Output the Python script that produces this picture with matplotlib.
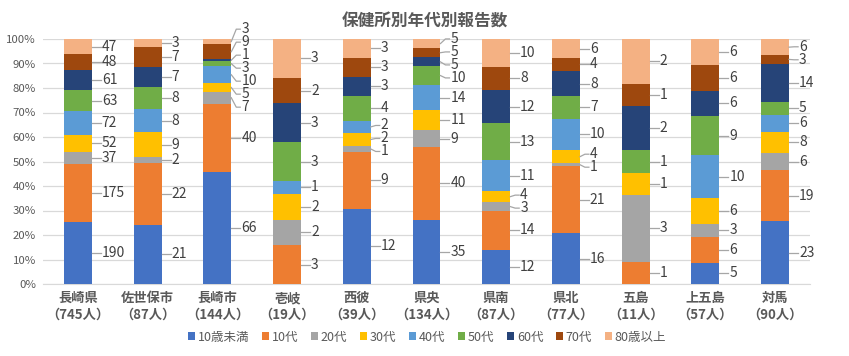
import numpy as np
import matplotlib
matplotlib.use("Agg")
import matplotlib.pyplot as plt
from matplotlib.patches import Patch

plt.rcParams['font.family'] = ['Noto Sans CJK JP', 'DejaVu Sans']

areas = ['長崎県', '佐世保市', '長崎市', '壱岐', '西彼', '県央', '県南', '県北', '五島', '上五島', '対馬']
age_groups = ['10歳未満', '10代', '20代', '30代', '40代', '50代', '60代', '70代', '80歳以上']

# counts per area, bottom (10歳未満) to top (80歳以上)
under10 = [190, 21, 66, 0, 12, 35, 12, 16, 0, 5, 23]
teens   = [175, 22, 40, 3, 9, 40, 14, 21, 1, 6, 19]
twenties = [37, 2, 7, 2, 1, 9, 3, 1, 3, 3, 6]
thirties = [52, 9, 5, 2, 2, 11, 4, 4, 1, 6, 8]
forties  = [72, 8, 10, 1, 2, 14, 11, 10, 0, 10, 6]
fifties  = [63, 8, 3, 3, 4, 10, 13, 7, 1, 9, 5]
sixties  = [61, 7, 1, 3, 3, 5, 12, 8, 2, 6, 14]
seventies = [48, 7, 9, 2, 3, 5, 8, 4, 1, 6, 3]
over80   = [47, 3, 3, 3, 3, 5, 10, 6, 2, 6, 6]

colors = ['#4472C4', '#ED7D31', '#A5A5A5', '#FFC000', '#5B9BD5',
          '#70AD47', '#264478', '#9E480E', '#F4B183']

counts = np.array([under10, teens, twenties, thirties, forties,
                   fifties, sixties, seventies, over80], dtype=float)
totals = counts.sum(axis=0)
pct = counts / totals * 100

W, H = 849, 356
fig = plt.figure(figsize=(W / 100, H / 100), dpi=100)
ax = fig.add_axes([43 / W, (H - 284) / H, (810 - 43) / W, (284 - 39) / H])

x = np.arange(len(areas))
bw = 0.4
bottom = np.zeros(len(areas))
for k in range(len(age_groups)):
    ax.bar(x, pct[k], bw, bottom=bottom, color=colors[k], zorder=3)
    bottom += pct[k]

ax.set_xlim(-0.5, len(areas) - 0.5)
ax.set_ylim(0, 100)
ax.set_yticks(np.arange(0, 101, 10))
ax.set_yticklabels([f'{v}%' for v in range(0, 101, 10)], color='#595959', fontsize=8.2)
ax.grid(axis='y', color='#D9D9D9', linewidth=0.9, zorder=0)
for s in ['top', 'right', 'left']:
    ax.spines[s].set_visible(False)
ax.spines['bottom'].set_color('#D9D9D9')
ax.tick_params(axis='both', length=0)
ax.tick_params(axis='y', pad=5)
ax.tick_params(axis='x', pad=5)
ax.set_xticks(x)
ax.set_xticklabels([f'{a}\n（{int(t)}人）' for a, t in zip(areas, totals)],
                   fontsize=9.5, fontweight='bold', color='#595959', linespacing=1.25)

# data labels with leader lines, spread apart to avoid overlap
px_x = len(areas) / (810 - 43)
px_y = 100 / (284 - 39)
gap = 13 * px_y
for i in range(len(areas)):
    cum = np.cumsum(pct[:, i]) - pct[:, i] / 2
    idx = [k for k in range(len(age_groups)) if counts[k, i] > 0]
    centers = np.array([cum[k] for k in idx])
    pos = centers.copy()
    for _ in range(300):
        moved = False
        for j in range(len(pos) - 1):
            d = pos[j + 1] - pos[j]
            if d < gap:
                shift = (gap - d) / 2 + 1e-6
                pos[j] -= shift
                pos[j + 1] += shift
                moved = True
        if not moved:
            break
    right = i + bw / 2
    for k, c, p in zip(idx, centers, pos):
        ax.plot([right, right + 5 * px_x, right + 9 * px_x], [c, p, p],
                color='#A6A6A6', linewidth=0.9, clip_on=False, zorder=4)
        ax.text(right + 10 * px_x, p, f'{int(counts[k, i])}', fontsize=10,
                color='#404040', va='center', ha='left', clip_on=False)

fig.text(425 / W, (H - 22) / H, '保健所別年代別報告数', ha='center', va='center',
         fontsize=12, fontweight='bold', color='#595959')

handles = [Patch(facecolor=c, edgecolor='none') for c in colors]
fig.legend(handles, age_groups, loc='center', bbox_to_anchor=(427 / W, (H - 337) / H),
           ncol=9, frameon=False, fontsize=9, handlelength=0.6, handleheight=0.6,
           handletextpad=0.2, columnspacing=1.0, labelcolor='#595959')

fig.savefig('out.png', dpi=100)
